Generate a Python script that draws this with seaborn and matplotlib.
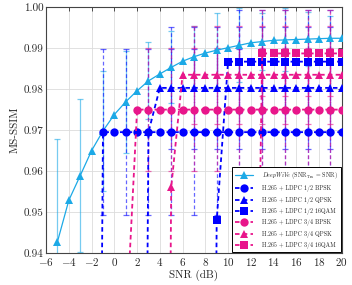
import matplotlib
matplotlib.use('Agg')
import matplotlib.pyplot as plt
import seaborn as sns
import pandas as pd

# DeepWiVe curve
dw_snr = [-5, -4, -3, -2, -1, 0, 1, 2, 3, 4, 5, 6, 7, 8, 9, 10, 11, 12, 13, 14, 15, 16, 17, 18, 19, 20]
dw_val = [0.9428, 0.9529, 0.9589, 0.9650, 0.9698, 0.9738, 0.9769, 0.9796, 0.9820, 0.9837, 0.9853,
          0.9868, 0.9879, 0.9888, 0.9895, 0.9901, 0.9907, 0.9913, 0.9916, 0.9919, 0.9920, 0.9921,
          0.9922, 0.9923, 0.9924, 0.9924]
dw_err_snr = [-5, -3, -1, 1, 3, 5, 7, 9, 11, 13, 15, 17, 19]
dw_err = [0.025, 0.0186, 0.0147, 0.0125, 0.0094, 0.0088, 0.0075, 0.009, 0.009, 0.007, 0.0077, 0.0065, 0.0055]

# H.265 + LDPC 1/2 BPSK
b12_snr = [-2, -1, 0, 1, 2, 3, 4, 5, 6, 7, 8, 9, 10, 11, 12, 13, 14, 15, 16, 17, 18, 19, 20]
b12_val = [0.60, 0.9695, 0.9695, 0.9695, 0.9695, 0.9695, 0.9695, 0.9695, 0.9695, 0.9695, 0.9695, 0.9695,
           0.9695, 0.9695, 0.9695, 0.9695, 0.9695, 0.9695, 0.9695, 0.9695, 0.9695, 0.9695, 0.9695]
b12_err_snr = [-1, 1, 3, 5, 7, 9, 11, 13, 15, 17, 19]
b12_err = [0.0203, 0.0203, 0.0203, 0.0203, 0.0203, 0.0203, 0.0203, 0.0203, 0.0203, 0.0203, 0.0203]

# H.265 + LDPC 1/2 QPSK
q12_snr = [2, 3, 4, 5, 6, 7, 8, 9, 10, 11, 12, 13, 14, 15, 16, 17, 18, 19, 20]
q12_val = [0.60, 0.9695, 0.9803, 0.9803, 0.9803, 0.9803, 0.9803, 0.9803, 0.9803, 0.9803, 0.9803,
           0.9803, 0.9803, 0.9803, 0.9803, 0.9803, 0.9803, 0.9803, 0.9803]
q12_err_snr = [5, 7, 9, 11, 13, 15, 17, 19]
q12_err = [0.0148, 0.0148, 0.0148, 0.0148, 0.0148, 0.0148, 0.0148, 0.0148]

# H.265 + LDPC 1/2 16QAM
m12_snr = [8, 9, 10, 11, 12, 13, 14, 15, 16, 17, 18, 19, 20]
m12_val = [0.60, 0.948, 0.9867, 0.9867, 0.9867, 0.9867, 0.9867, 0.9867, 0.9867, 0.9867, 0.9867, 0.9867, 0.9867]
m12_err_snr = [11, 13, 15, 17, 19]
m12_err = [0.0125, 0.0125, 0.0125, 0.0125, 0.0125]

# H.265 + LDPC 3/4 BPSK
b34_snr = [1, 2, 3, 4, 5, 6, 7, 8, 9, 10, 11, 12, 13, 14, 15, 16, 17, 18, 19, 20]
b34_val = [0.920, 0.975, 0.975, 0.975, 0.975, 0.975, 0.975, 0.975, 0.975, 0.975, 0.975, 0.975,
           0.975, 0.975, 0.975, 0.975, 0.975, 0.975, 0.975, 0.975]
b34_err_snr = [3, 5, 7, 9, 11, 13, 15, 17, 19]
b34_err = [0.015, 0.015, 0.015, 0.015, 0.015, 0.015, 0.015, 0.015, 0.015]

# H.265 + LDPC 3/4 QPSK
q34_snr = [4, 5, 6, 7, 8, 9, 10, 11, 12, 13, 14, 15, 16, 17, 18, 19, 20]
q34_val = [0.60, 0.956, 0.9835, 0.9835, 0.9835, 0.9835, 0.9835, 0.9835, 0.9835, 0.9835, 0.9835,
           0.9835, 0.9835, 0.9835, 0.9835, 0.9835, 0.9835]
q34_err_snr = [7, 9, 11, 13, 15, 17, 19]
q34_err = [0.012, 0.012, 0.012, 0.012, 0.012, 0.012, 0.012]

# H.265 + LDPC 3/4 16QAM
m34_snr = [12, 13, 14, 15, 16, 17, 18, 19, 20]
m34_val = [0.81, 0.9887, 0.9887, 0.9887, 0.9887, 0.9887, 0.9887, 0.9887, 0.9887]
m34_err_snr = [13, 15, 17, 19]
m34_err = [0.0105, 0.0105, 0.0105, 0.0105]

LIGHT = '#1CA9E6'
BLUE = '#0000FF'
PINK = '#E8168B'

sns.set_style('whitegrid')
plt.rcParams['font.family'] = 'cmr10'
plt.rcParams['mathtext.fontset'] = 'cm'
plt.rcParams['axes.formatter.use_mathtext'] = True

fig = plt.figure(figsize=(3.52, 2.85), dpi=100)
ax = fig.add_axes([0.131, 0.112, 0.84, 0.863])

series = [
    (dw_snr, dw_val, dw_err_snr, dw_err, LIGHT, '^', '-', 6.3,
     r'$\mathit{DeepWiVe}$ (SNR$_{\mathrm{Tra}}$ = SNR)'),
    (b12_snr, b12_val, b12_err_snr, b12_err, BLUE, 'o', '--', 6.0, 'H.265 + LDPC 1/2 BPSK'),
    (q12_snr, q12_val, q12_err_snr, q12_err, BLUE, '^', '--', 6.0, 'H.265 + LDPC 1/2 QPSK'),
    (m12_snr, m12_val, m12_err_snr, m12_err, BLUE, 's', '--', 5.6, 'H.265 + LDPC 1/2 16QAM'),
    (b34_snr, b34_val, b34_err_snr, b34_err, PINK, 'o', '--', 6.0, 'H.265 + LDPC 3/4 BPSK'),
    (q34_snr, q34_val, q34_err_snr, q34_err, PINK, '^', '--', 6.0, 'H.265 + LDPC 3/4 QPSK'),
    (m34_snr, m34_val, m34_err_snr, m34_err, PINK, 's', '--', 5.6, 'H.265 + LDPC 3/4 16QAM'),
]

# error bars first so the curves sit on top
for x, y, ex, ey, color, marker, ls, ms, label in series:
    lookup = dict(zip(x, y))
    centers = [lookup[v] for v in ex]
    eb = ax.errorbar(ex, centers, yerr=ey, fmt='none', ecolor=color, elinewidth=0.9,
                     capsize=2.2, capthick=0.9, alpha=0.6, zorder=2)
    if ls == '--':
        eb[2][0].set_linestyle((0, (3, 2)))

for x, y, ex, ey, color, marker, ls, ms, label in series:
    df = pd.DataFrame({'snr': x, 'ssim': y})
    sns.lineplot(data=df, x='snr', y='ssim', ax=ax, color=color, marker=marker,
                 markersize=ms, markeredgewidth=0, linestyle=ls,
                 linewidth=0.9 if ls == '-' else 1.3, label=label, zorder=3)
    if ls == '--':
        ax.lines[-1].set_dashes((2.5, 1.8))

ax.set_xlim(-6, 20)
ax.set_ylim(0.94, 1.0)
ax.set_xticks(range(-6, 21, 2))
ax.set_yticks([0.94, 0.95, 0.96, 0.97, 0.98, 0.99, 1.00])
ax.yaxis.set_major_formatter(matplotlib.ticker.FormatStrFormatter('%.2f'))
ax.set_xlabel('SNR (dB)', fontsize=8, labelpad=1)
ax.set_ylabel('MS-SSIM', fontsize=8, labelpad=3)
ax.tick_params(axis='both', direction='in', length=3, width=0.6, labelsize=8,
               top=True, right=True, pad=2, color='#333333')
ax.grid(True, color='#dcdcdc', linewidth=0.6)
for sp in ax.spines.values():
    sp.set_color('#444444')
    sp.set_linewidth(0.8)

leg = ax.legend(loc='lower right', borderaxespad=0.1, fontsize=4.3, labelspacing=0.72,
                handlelength=3.0, handletextpad=1.4, borderpad=0.6, fancybox=False,
                framealpha=1, edgecolor='black')
leg.get_frame().set_linewidth(0.7)

plt.savefig('out.png', dpi=100)
plt.close()
